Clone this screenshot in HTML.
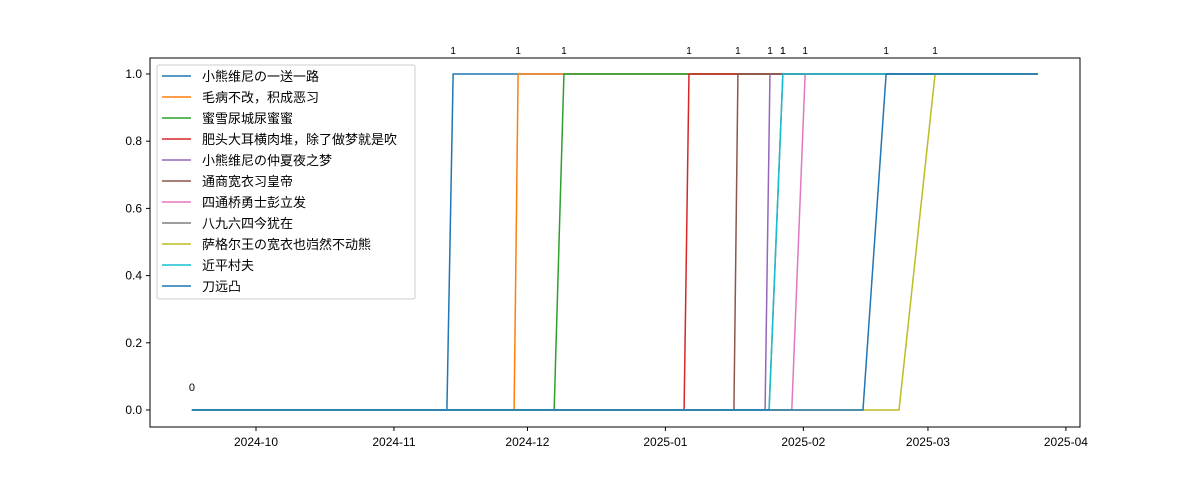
<!DOCTYPE html>
<html><head><meta charset="utf-8"><style>
body{margin:0;background:#fff}
svg{display:block;font-family:"Liberation Sans","Noto Sans CJK SC",sans-serif}
</style></head><body>
<svg id="chart" width="1200" height="480">
<rect x="150" y="58" width="930" height="369" fill="#fff" stroke="#000" stroke-width="1"/>
<g id="ticks"></g><g id="lines"></g><g id="labels"></g><g id="legend"></g>
</svg>
<script>
const seriesNames=["小熊维尼の一送一路","毛病不改，积成恶习","蜜雪尿城尿蜜蜜","肥头大耳横肉堆，除了做梦就是吹","小熊维尼の仲夏夜之梦","通商宽衣习皇帝","四通桥勇士彭立发","八九六四今犹在","萨格尔王の宽衣也岿然不动熊","近平村夫","刀远凸"];
const colors=["#1f77b4","#ff7f0e","#2ca02c","#d62728","#9467bd","#8c564b","#e377c2","#7f7f7f","#bcbd22","#17becf","#1f77b4"];
// day offsets from 2024-10-01: last day at 0, first day at 1
const zeroEnd=[42.9,58.0,67.0,96.2,114.4,107.4,120.4,115.3,144.5,115.3,136.4];
const oneStart=[44.3,58.9,69.2,97.3,115.5,108.3,123.4,118.4,152.6,118.4,141.6];
const startDay=-14.4, endDay=175.7;
const xTickDays=[0,31,61,92,123,151,182];
const xTickLabels=["2024-10","2024-11","2024-12","2025-01","2025-02","2025-03","2025-04"];
const yTicks=[0,0.2,0.4,0.6,0.8,1.0];
const NS="http://www.w3.org/2000/svg";
const X=d=>256+d*4.45, Y=v=>410-v*336;
function mk(p,tag,attrs,txt){const e=document.createElementNS(NS,tag);for(const k in attrs)e.setAttribute(k,attrs[k]);if(txt!=null)e.textContent=txt;p.appendChild(e);return e;}
const tk=document.getElementById('ticks');
xTickDays.forEach((d,i)=>{
 const l=mk(tk,'line',{x1:X(d),x2:X(d),y1:427,y2:431,stroke:'#000'});
 
 
 const t=mk(tk,'text',{x:X(d),y:446,'text-anchor':'middle','font-size':12},xTickLabels[i]);
 
 
});
yTicks.forEach(v=>{
 const l=mk(tk,'line',{x1:146,x2:150,y1:Y(v),y2:Y(v),stroke:'#000'});
 
 
 const t=mk(tk,'text',{x:142,y:Y(v)+4,'text-anchor':'end','font-size':12},v.toFixed(1));
 
 
});
const ln=document.getElementById('lines'), lb=document.getElementById('labels');
seriesNames.forEach((n,i)=>{
 const pts=[[startDay,0],[zeroEnd[i],0],[oneStart[i],1],[endDay,1]].map(p=>X(p[0])+','+Y(p[1])).join(' ');
 const pl=mk(ln,'polyline',{points:pts,fill:'none',stroke:colors[i],'stroke-width':1.5});
 
 
 const t=mk(lb,'text',{x:X(oneStart[i]),y:54,'text-anchor':'middle','font-size':10},'1');
 
 
});
const z=mk(lb,'text',{x:X(startDay),y:391,'text-anchor':'middle','font-size':11},'0');


const lg=document.getElementById('legend');
const box=mk(lg,'rect',{x:157,y:65,width:258,height:234,rx:2,fill:'#fff','fill-opacity':0.85,stroke:'#ccc'});


seriesNames.forEach((n,i)=>{
 const y=76+i*21;
 const l=mk(lg,'line',{x1:162,x2:191,y1:y,y2:y,stroke:colors[i],'stroke-width':1.5});
 
 
 const t=mk(lg,'text',{x:202,y:y+5,'font-size':13},n);
 
 
});
</script>
</body></html>
